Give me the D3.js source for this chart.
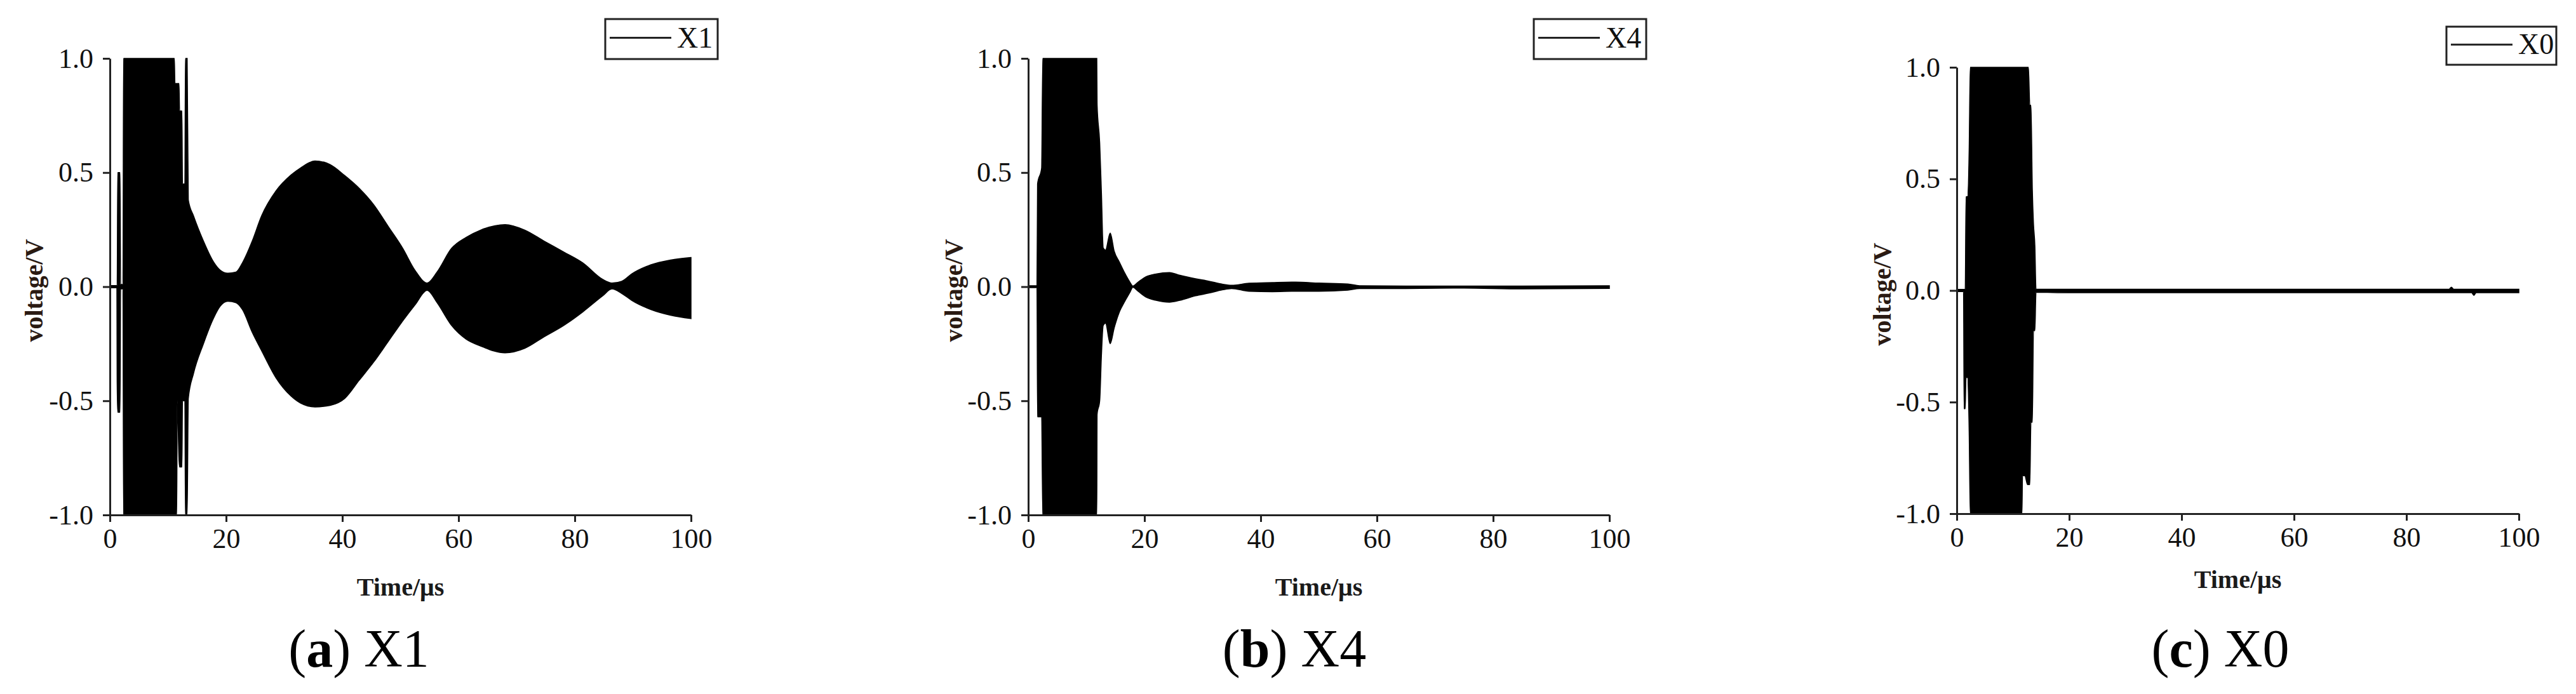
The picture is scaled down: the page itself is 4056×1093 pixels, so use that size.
<!DOCTYPE html>
<html><head><meta charset="utf-8">
<script src="https://cdn.jsdelivr.net/npm/d3@7"></script>
<style>body{margin:0;background:#fff;} svg{display:block;}</style>
</head><body>
<svg id="chart" width="4056" height="1093"></svg>
<script>
// ---------------- data ----------------
const xTicks = [0, 20, 40, 60, 80, 100];
const yTicks = [-1.0, -0.5, 0.0, 0.5, 1.0];
const xLabel = "Time/μs";
const yLabel = "voltage/V";
const seriesNames = ["X1", "X4", "X0"];
const captionLetters = ["a", "b", "c"];

// X1 signal envelope (upper / lower), time in μs
const timeX1 = [0, 1.2, 1.25, 1.35, 1.75, 1.85, 2.25, 2.35, 11.1, 11.2, 11.5, 11.6, 11.9, 12.0, 12.4, 12.5, 12.9, 13.0, 13.3, 13.5, 14.4, 16.1, 17.8, 19.0, 20.3, 21.7, 22.8, 24.5, 26.1, 28.6, 31.2, 32.8, 35.3, 37.9, 40.4, 42.9, 45.4, 47.9, 50.4, 52.5, 54.6, 56.3, 58.8, 61.3, 63.8, 68.0, 71.4, 74.7, 78.1, 81.4, 84.8, 86.4, 88.1, 89.8, 93.1, 96.5, 100];
const upperX1 = [0.005, 0.005, 0.005, 0.5, 0.5, 0.01, 0.01, 1, 1, 0.89, 0.89, 0.89, 0.89, 0.77, 0.77, 0.45, 0.45, 1, 1, 0.38, 0.31, 0.2, 0.11, 0.072, 0.059, 0.064, 0.104, 0.2, 0.31, 0.42, 0.49, 0.52, 0.551, 0.535, 0.487, 0.431, 0.359, 0.264, 0.168, 0.072, 0.016, 0.064, 0.168, 0.216, 0.248, 0.272, 0.248, 0.2, 0.152, 0.104, 0.032, 0.016, 0.024, 0.056, 0.096, 0.117, 0.128];
const lowerX1 = [-0.005, -0.005, -0.42, -0.55, -0.55, -0.01, -0.01, -1, -1, -1, -1, -0.5, -0.76, -0.79, -0.79, -0.5, -0.5, -1, -1, -0.49, -0.38, -0.25, -0.14, -0.085, -0.064, -0.07, -0.1, -0.2, -0.28, -0.4, -0.48, -0.51, -0.527, -0.52, -0.49, -0.41, -0.33, -0.24, -0.15, -0.08, -0.016, -0.07, -0.17, -0.23, -0.26, -0.29, -0.27, -0.22, -0.17, -0.11, -0.04, -0.01, -0.03, -0.06, -0.1, -0.125, -0.14];

// X4 signal envelope
const timeX4 = [0, 1.5, 1.6, 2.3, 2.5, 11.8, 11.85, 12.3, 12.6, 12.9, 13.3, 14.1, 14.8, 15.7, 16.6, 17.5, 18.0, 18.9, 20.2, 22.0, 24.3, 26.1, 28.8, 31.1, 33.4, 35.0, 38.0, 42.0, 46.0, 50.0, 55.0, 57.0, 65.0, 75.0, 85.0, 100];
const upperX4 = [0.004, 0.004, 0.45, 0.52, 1, 1, 0.8, 0.63, 0.41, 0.17, 0.16, 0.235, 0.155, 0.107, 0.06, 0.02, 0.003, 0.02, 0.043, 0.056, 0.062, 0.05, 0.035, 0.024, 0.011, 0.006, 0.015, 0.018, 0.02, 0.016, 0.012, 0.004, 0.003, 0.003, 0.003, 0.004];
const lowerX4 = [-0.004, -0.004, -0.57, -0.57, -1, -1, -0.56, -0.5, -0.3, -0.17, -0.16, -0.25, -0.18, -0.11, -0.065, -0.025, -0.003, -0.02, -0.045, -0.06, -0.068, -0.06, -0.04, -0.028, -0.014, -0.008, -0.02, -0.022, -0.02, -0.02, -0.015, -0.008, -0.008, -0.006, -0.01, -0.008];

// X0 signal envelope
const timeX0 = [0, 1.2, 1.3, 1.5, 1.65, 1.9, 2.2, 2.4, 11.6, 11.7, 12.1, 12.6, 12.75, 13.0, 13.2, 13.45, 13.65, 13.9, 14.1, 20, 30, 40, 50, 60, 70, 80, 87.6, 88, 88.4, 91.6, 92, 92.4, 100];
const upperX0 = [0.005, 0.005, 0.005, 0.005, 0.42, 0.42, 0.63, 1, 1, 1, 1, 1, 1, 0.83, 0.83, 0.45, 0.3, 0.2, 0.006, 0.006, 0.006, 0.006, 0.006, 0.006, 0.006, 0.006, 0.006, 0.015, 0.006, 0.006, 0.006, 0.006, 0.006];
const lowerX0 = [-0.005, -0.005, -0.53, -0.53, -0.39, -0.39, -0.63, -1, -1, -0.83, -0.83, -0.87, -0.87, -0.87, -0.59, -0.59, -0.18, -0.18, -0.008, -0.01, -0.01, -0.01, -0.01, -0.01, -0.01, -0.01, -0.01, -0.01, -0.01, -0.01, -0.022, -0.01, -0.01];

const seriesTime = [timeX1, timeX4, timeX0];
const seriesUpper = [upperX1, upperX4, upperX0];
const seriesLower = [lowerX1, lowerX4, lowerX0];

// ---------------- layout ----------------
const layout = [
  {left: 173, right: 1088, top: 92, bottom: 811, legX: 953, legY: 30, legW: 177, legH: 63, capX: 565, xLabY: 938, yLabOff: 106},
  {left: 1619, right: 2534, top: 92, bottom: 811, legX: 2415, legY: 30, legW: 177, legH: 63, capX: 2038, xLabY: 938, yLabOff: 104},
  {left: 3081, right: 3966, top: 106, bottom: 809, legX: 3852, legY: 42, legW: 173, legH: 60, capX: 3496, xLabY: 926, yLabOff: 104}
];
const FONT = "'Liberation Serif','Times New Roman',serif";
const AXIS_COLOR = "#222";

const svg = d3.select("#chart");

layout.forEach((L, k) => {
  const t = seriesTime[k], up = seriesUpper[k], lo = seriesLower[k];
  const x = d3.scaleLinear().domain([0, 100]).range([L.left, L.right]);
  const y = d3.scaleLinear().domain([-1, 1]).range([L.bottom, L.top]);
  const g = svg.append("g");

  const area = d3.area()
    .curve(d3.curveMonotoneX)
    .x(i => x(t[i]))
    .y0(i => y(lo[i]))
    .y1(i => y(up[i]));
  g.append("path")
    .datum(d3.range(t.length))
    .attr("d", area)
    .attr("fill", "#000")
    .attr("stroke", "#000")
    .attr("stroke-width", 1.5)
    .attr("stroke-linejoin", "miter");

  // axes
  const xAxis = g.append("g")
    .attr("transform", `translate(0,${L.bottom})`)
    .call(d3.axisBottom(x).tickValues(xTicks).tickSize(11).tickSizeOuter(0).tickPadding(10).tickFormat(d => String(d)));
  const yAxis = g.append("g")
    .attr("transform", `translate(${L.left},0)`)
    .call(d3.axisLeft(y).tickValues(yTicks).tickSize(11).tickSizeOuter(0).tickPadding(15).tickFormat(d => d.toFixed(1)));
  [xAxis, yAxis].forEach(a => {
    a.select(".domain").attr("stroke", AXIS_COLOR).attr("stroke-width", 3);
    a.selectAll(".tick line").attr("stroke", AXIS_COLOR).attr("stroke-width", 3);
    a.selectAll(".tick text").attr("font-family", FONT).attr("font-size", 44).attr("fill", "#111");
  });

  // axis titles
  g.append("text")
    .attr("x", (L.left + L.right) / 2)
    .attr("y", L.xLabY)
    .attr("text-anchor", "middle")
    .attr("font-family", FONT).attr("font-size", 40).attr("font-weight", "bold").attr("fill", "#1a1a1a")
    .text(xLabel);
  const cy = (L.top + L.bottom) / 2 + 6;
  g.append("text")
    .attr("transform", `translate(${L.left - L.yLabOff},${cy}) rotate(-90)`)
    .attr("text-anchor", "middle")
    .attr("font-family", FONT).attr("font-size", 40).attr("font-weight", "bold").attr("fill", "#2a1a12")
    .text(yLabel);

  // legend
  g.append("rect")
    .attr("x", L.legX).attr("y", L.legY).attr("width", L.legW).attr("height", L.legH)
    .attr("fill", "#fff").attr("stroke", AXIS_COLOR).attr("stroke-width", 3);
  const ly = L.legY + L.legH * 0.47;
  g.append("line")
    .attr("x1", L.legX + 7).attr("x2", L.legX + 104)
    .attr("y1", ly).attr("y2", ly)
    .attr("stroke", "#222").attr("stroke-width", 3);
  g.append("text")
    .attr("x", L.legX + 113).attr("y", ly + 15)
    .attr("font-family", FONT).attr("font-size", 46).attr("fill", "#111")
    .text(seriesNames[k]);

  // caption
  const cap = g.append("text")
    .attr("x", L.capX).attr("y", 1050)
    .attr("text-anchor", "middle")
    .attr("font-family", FONT).attr("font-size", 84).attr("fill", "#000");
  cap.append("tspan").text("(");
  cap.append("tspan").attr("font-weight", "bold").text(captionLetters[k]);
  cap.append("tspan").text(") " + seriesNames[k]);
});
</script>
</body></html>
